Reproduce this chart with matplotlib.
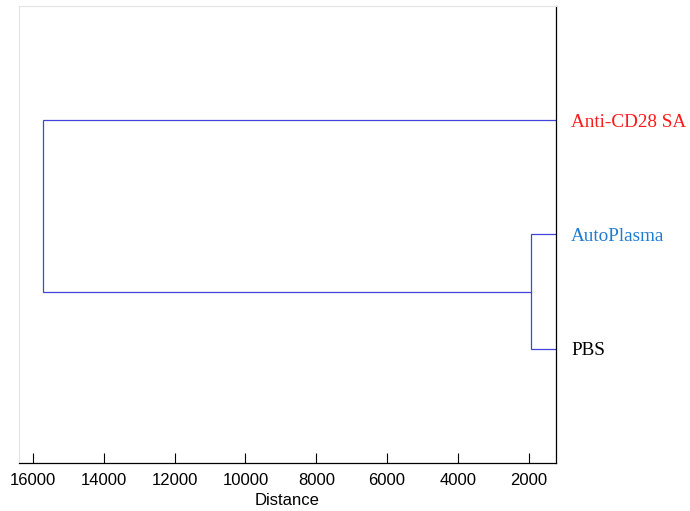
import matplotlib
matplotlib.use("Agg")
import matplotlib.pyplot as plt

# Leaves (bottom to top) and the linkage heights
leaf_labels = ["PBS", "AutoPlasma", "Anti-CD28 SA"]
leaf_colors = ["#000000", "#1f7bd0", "#ff1a1a"]
leaf_pos = [1, 2, 3]
merge_low = 1935      # PBS + AutoPlasma
merge_root = 15720    # (PBS, AutoPlasma) + Anti-CD28 SA
xticks = [16000, 14000, 12000, 10000, 8000, 6000, 4000, 2000]

line_color = "#4444dd"

fig = plt.figure(figsize=(6.9, 5.11), dpi=100)
ax = fig.add_axes([18.5 / 690, 48 / 511, (556 - 18.5) / 690, (463 - 6) / 511])

# lower cluster
mid_low = (leaf_pos[0] + leaf_pos[1]) / 2
ax.plot([0, merge_low, merge_low, 0], [leaf_pos[0], leaf_pos[0], leaf_pos[1], leaf_pos[1]],
        color=line_color, lw=0.9, solid_joinstyle="miter")
# root
ax.plot([merge_low, merge_root, merge_root, 0], [mid_low, mid_low, leaf_pos[2], leaf_pos[2]],
        color=line_color, lw=0.9, solid_joinstyle="miter")

ax.set_xlim(16410, 1229)
ax.set_ylim(0, 4)
ax.set_xticks(xticks)
ax.set_xticklabels([str(t) for t in xticks], family="Liberation Sans", fontsize=12)
ax.set_yticks([])
ax.tick_params(axis="x", direction="in", length=7, width=0.8, pad=7)
ax.set_xlabel("Distance", family="Liberation Sans", fontsize=12, labelpad=4)

for side in ("top", "left"):
    ax.spines[side].set_color("#e4e4e4")
for side in ("bottom", "right"):
    ax.spines[side].set_color("black")
    ax.spines[side].set_linewidth(0.9)

for lab, col, y in zip(leaf_labels, leaf_colors, leaf_pos):
    ax.annotate(lab, xy=(1, y), xycoords=("axes fraction", "data"),
                xytext=(15, -2), textcoords="offset pixels",
                ha="left", va="center", color=col,
                family="Liberation Serif", fontsize=13.8, annotation_clip=False)

fig.savefig("out.png", dpi=100)
